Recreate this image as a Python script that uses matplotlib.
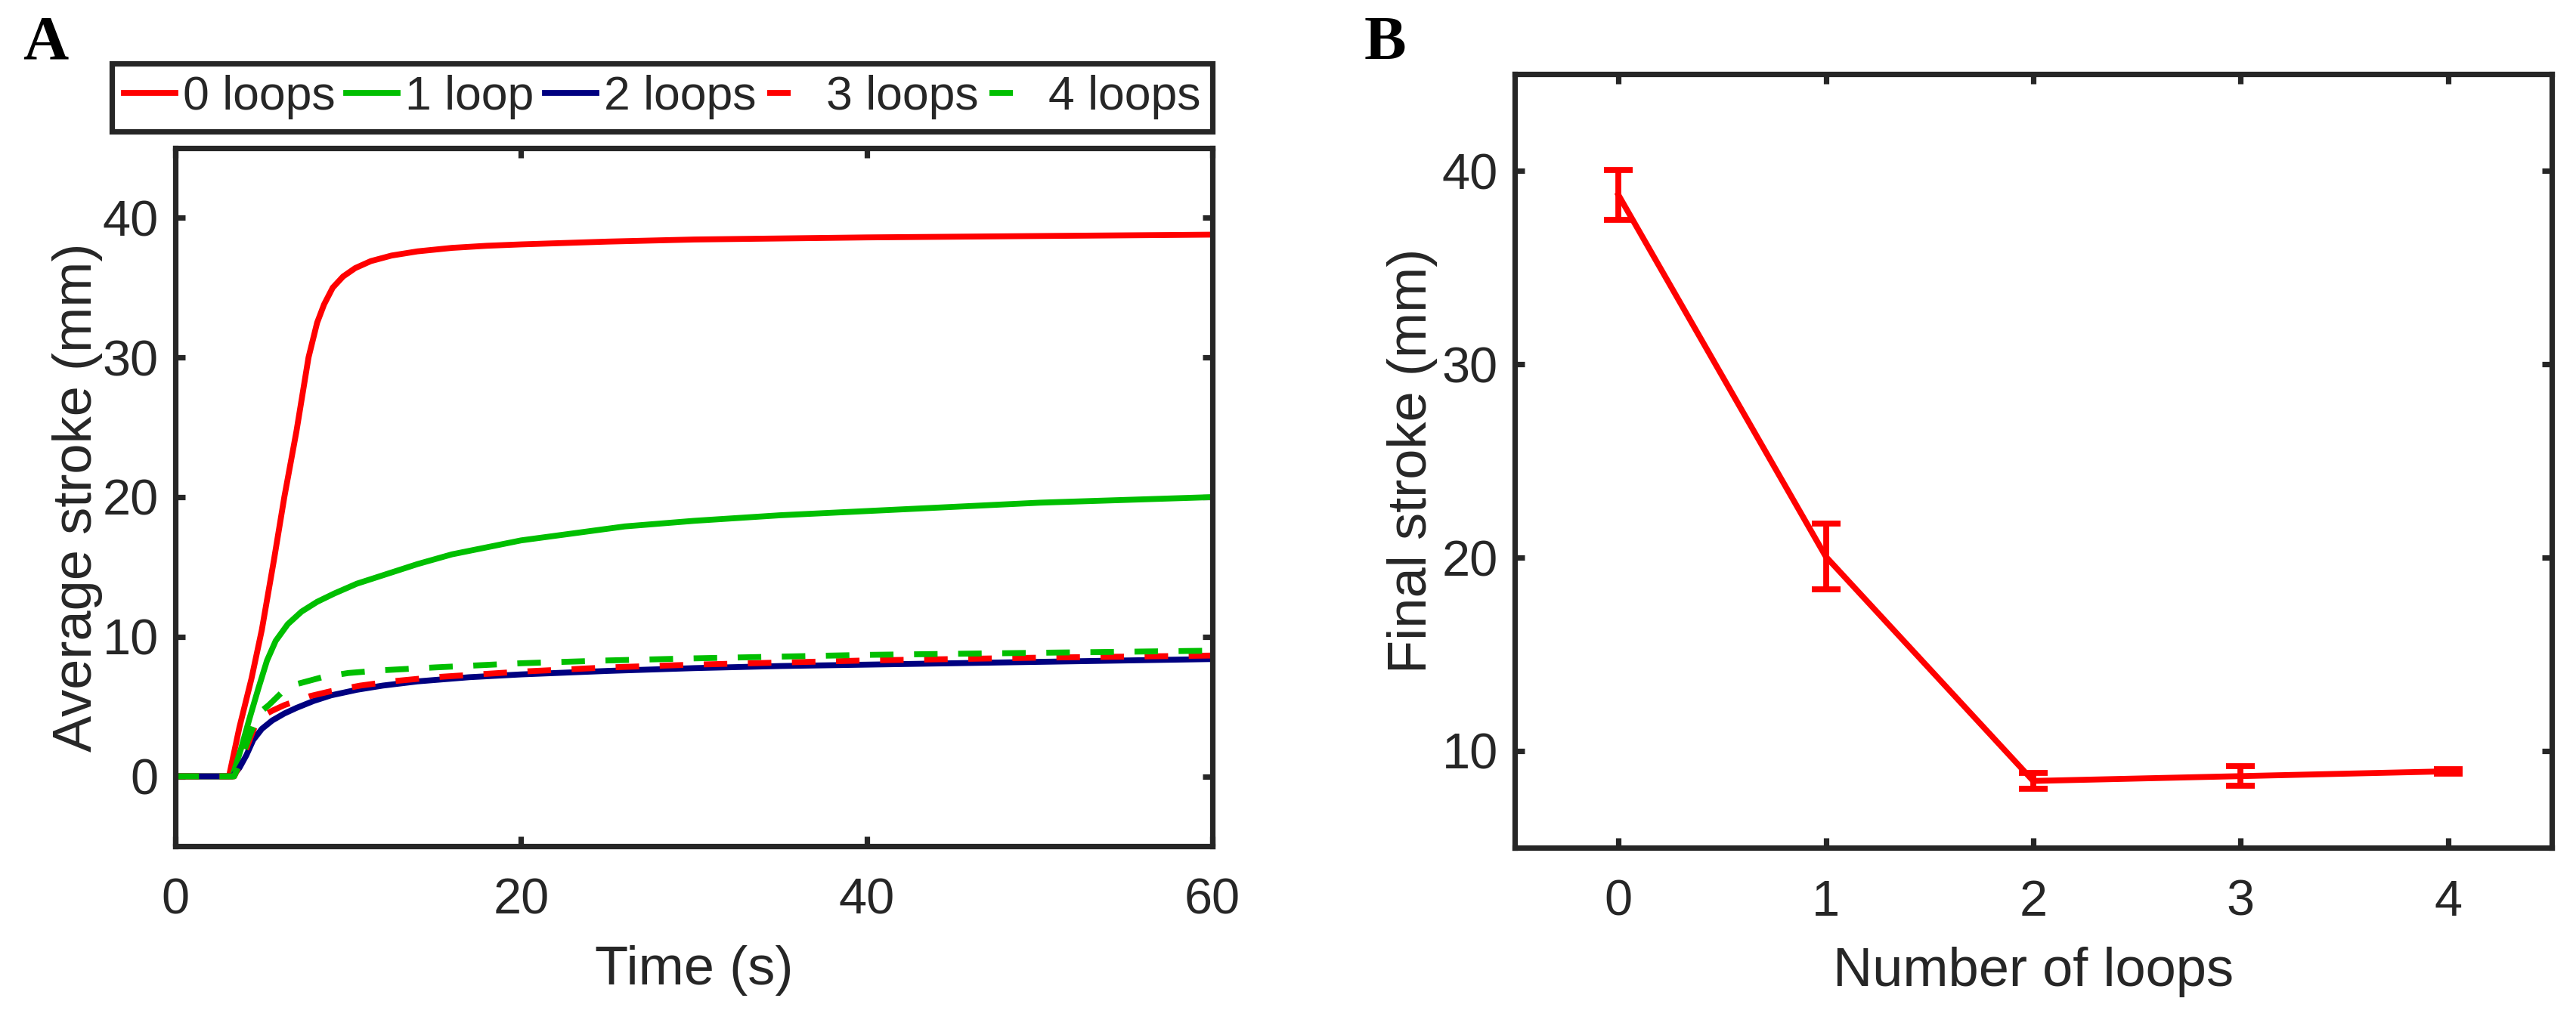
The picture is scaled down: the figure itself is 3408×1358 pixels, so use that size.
import matplotlib.pyplot as plt

# panel A: average stroke vs time
t_0loops = [0, 3.1, 3.7, 4.4, 5.0, 5.7, 6.3, 7.0, 7.7, 8.2, 8.6, 9.1, 9.7, 10.4, 11.3, 12.5, 14, 16, 18, 20, 25, 30, 40, 50, 60]
s_0loops = [0, 0, 3.5, 7.0, 10.5, 15.5, 20, 24.7, 30, 32.5, 33.8, 35.0, 35.8, 36.4, 36.9, 37.3, 37.6, 37.85, 38.0, 38.1, 38.3, 38.45, 38.6, 38.7, 38.8]

t_1loop = [0, 3.3, 3.8, 4.3, 4.8, 5.3, 5.8, 6.5, 7.3, 8.2, 9.2, 10.5, 12, 14, 16, 18, 20, 23, 26, 30, 35, 40, 45, 50, 55, 60]
s_1loop = [0, 0, 2.0, 4.2, 6.3, 8.3, 9.7, 10.9, 11.8, 12.5, 13.1, 13.8, 14.4, 15.2, 15.9, 16.4, 16.9, 17.4, 17.9, 18.3, 18.7, 19.0, 19.3, 19.6, 19.8, 20.0]

t_2loops = [0, 3.3, 3.7, 4.1, 4.5, 5.0, 5.6, 6.3, 7.0, 8.0, 9.0, 10.5, 12, 14, 17, 20, 25, 30, 35, 40, 45, 50, 55, 60]
s_2loops = [0, 0, 0.6, 1.5, 2.6, 3.4, 4.0, 4.5, 4.9, 5.4, 5.8, 6.2, 6.5, 6.8, 7.1, 7.3, 7.55, 7.75, 7.9, 8.0, 8.1, 8.2, 8.3, 8.4]

t_3loops = [0, 3.4, 3.8, 4.2, 4.6, 5.0, 5.6, 6.3, 7.0, 7.8, 9.0, 10.7, 12.5, 15, 20, 25, 30, 35, 40, 50, 60]
s_3loops = [0, 0, 1.0, 2.3, 3.6, 4.3, 4.7, 5.1, 5.4, 5.75, 6.1, 6.5, 6.8, 7.1, 7.5, 7.8, 8.0, 8.15, 8.3, 8.5, 8.65]

t_4loops = [0, 3.4, 3.8, 4.2, 4.6, 5.0, 5.4, 5.9, 6.4, 7.0, 7.6, 8.5, 10, 12, 15, 20, 25, 30, 40, 50, 60]
s_4loops = [0, 0, 1.2, 2.6, 3.9, 4.7, 5.1, 5.7, 6.3, 6.6, 6.8, 7.1, 7.4, 7.6, 7.8, 8.1, 8.3, 8.45, 8.7, 8.85, 9.0]

# panel B: final stroke per number of loops
n_loops = [0, 1, 2, 3, 4]
final_stroke = [38.75, 20.05, 8.45, 8.7, 8.95]
final_err = [1.3, 1.7, 0.4, 0.5, 0.12]

RED = "#ff0000"
GREEN = "#00bf00"
BLUE = "#000080"
DARK = "#262626"
LW = 2.8
SPINE_LW = 2.6

plt.rcParams["font.family"] = ["Liberation Sans", "DejaVu Sans"]
plt.rcParams["text.color"] = DARK
plt.rcParams["axes.labelcolor"] = DARK

fig = plt.figure(figsize=(17.04, 6.79), dpi=200)
axA = fig.add_axes([0.0681, 0.1753, 0.4026, 0.6804])
axB = fig.add_axes([0.5880, 0.1738, 0.4026, 0.7540])


def style_axes(ax):
    for sp in ax.spines.values():
        sp.set_linewidth(SPINE_LW)
        sp.set_color(DARK)
    ax.tick_params(direction="in", length=4.8, width=SPINE_LW, colors=DARK,
                   labelsize=24, top=True, right=True)
    ax.tick_params(axis="x", pad=15)
    ax.tick_params(axis="y", pad=8)


dash = (4, 3.5)
axA.plot(t_0loops, s_0loops, color=RED, lw=LW, label="0 loops")
axA.plot(t_1loop, s_1loop, color=GREEN, lw=LW, label="1 loop")
axA.plot(t_2loops, s_2loops, color=BLUE, lw=LW, label="2 loops")
axA.plot(t_3loops, s_3loops, color=RED, lw=LW, dashes=dash, label="3 loops")
axA.plot(t_4loops, s_4loops, color=GREEN, lw=LW, dashes=dash, label="4 loops")
axA.set_xlim(0, 60)
axA.set_ylim(-5, 45)
axA.set_xticks([0, 20, 40, 60])
axA.set_yticks([0, 10, 20, 30, 40])
axA.set_xlabel("Time (s)", fontsize=26, labelpad=10)
axA.set_ylabel("Average stroke (mm)", fontsize=26, labelpad=0)
style_axes(axA)

leg = axA.legend(loc="lower left", bbox_to_anchor=(0.0434, 0.8719, 0.4273, 0.064),
                 bbox_transform=fig.transFigure, mode="expand", ncol=5,
                 fontsize=22.5, handlelength=1.1, handletextpad=0.15,
                 columnspacing=0.3, borderaxespad=0, borderpad=0.25,
                 fancybox=False, framealpha=1, edgecolor=DARK)
leg.get_frame().set_linewidth(SPINE_LW)
for ln in leg.get_lines()[3:]:
    ln.set_dashes((4, 6))

axB.errorbar(n_loops, final_stroke, yerr=final_err, color=RED, lw=LW,
             elinewidth=LW, capsize=6.8, capthick=LW)
axB.set_xlim(-0.5, 4.5)
axB.set_ylim(5, 45)
axB.set_xticks(n_loops)
axB.set_yticks([10, 20, 30, 40])
axB.set_xlabel("Number of loops", fontsize=26, labelpad=10)
axB.set_ylabel("Final stroke (mm)", fontsize=26, labelpad=2)
style_axes(axB)

panel_font = dict(family=["Liberation Serif", "DejaVu Serif"], weight="bold", fontsize=30, color="black")
fig.text(60 / 3408, 1 - 58 / 1358, "A", ha="center", va="center", **panel_font)
fig.text(1832 / 3408, 1 - 58 / 1358, "B", ha="center", va="center", **panel_font)

fig.savefig("out.png", dpi=200, facecolor="white")
